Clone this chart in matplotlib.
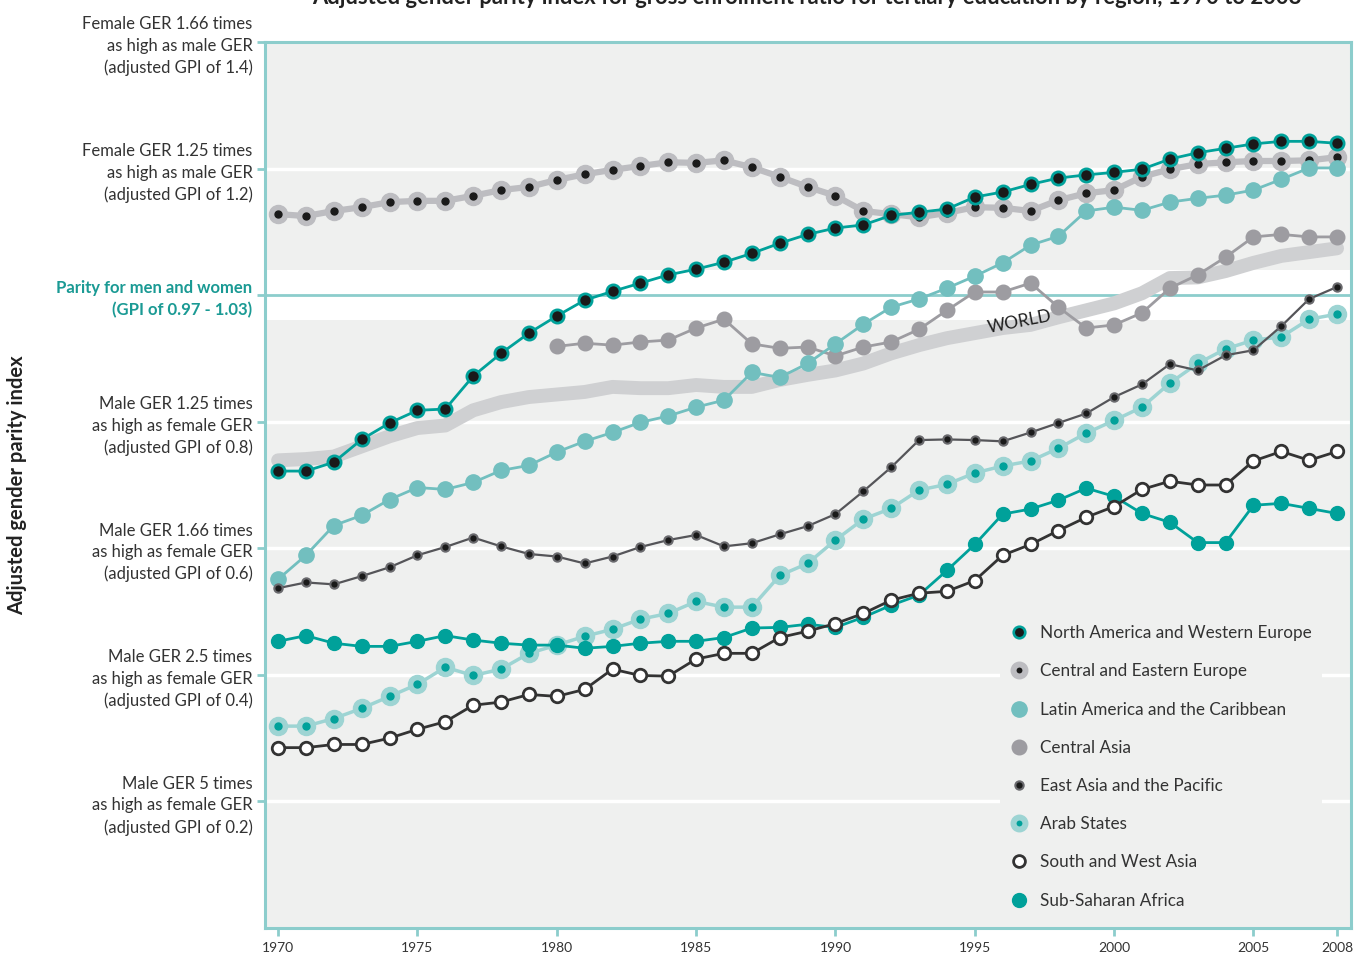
import matplotlib
matplotlib.use("Agg")
import matplotlib.pyplot as plt
from matplotlib.lines import Line2D

plt.rcParams['font.family'] = ['Lato', 'DejaVu Sans']

years = list(range(1970, 2009))
years_ca = list(range(1980, 2009))

north_america_w_europe = [0.722, 0.722, 0.736, 0.772, 0.798, 0.818, 0.820, 0.872, 0.908, 0.940,
                          0.967, 0.992, 1.006, 1.019, 1.032, 1.041, 1.052, 1.066, 1.082, 1.096,
                          1.106, 1.111, 1.126, 1.131, 1.136, 1.155, 1.163, 1.175, 1.185, 1.190,
                          1.194, 1.199, 1.215, 1.225, 1.232, 1.239, 1.243, 1.243, 1.240]
central_eastern_europe = [1.128, 1.125, 1.133, 1.139, 1.147, 1.149, 1.149, 1.157, 1.166, 1.171,
                          1.182, 1.191, 1.198, 1.204, 1.210, 1.209, 1.213, 1.202, 1.187, 1.171,
                          1.157, 1.133, 1.128, 1.123, 1.130, 1.139, 1.138, 1.133, 1.150, 1.161,
                          1.166, 1.187, 1.199, 1.207, 1.210, 1.212, 1.212, 1.213, 1.218]
latin_america_caribbean = [0.551, 0.589, 0.636, 0.652, 0.677, 0.696, 0.693, 0.704, 0.723, 0.731,
                           0.752, 0.769, 0.783, 0.799, 0.809, 0.823, 0.834, 0.878, 0.870, 0.892,
                           0.923, 0.954, 0.981, 0.994, 1.011, 1.030, 1.051, 1.079, 1.093, 1.133,
                           1.139, 1.134, 1.147, 1.153, 1.158, 1.166, 1.183, 1.201, 1.201]
central_asia = [0.919, 0.924, 0.921, 0.926, 0.929, 0.948, 0.962, 0.923, 0.916, 0.918,
                0.904, 0.918, 0.926, 0.946, 0.976, 1.005, 1.005, 1.019, 0.981, 0.948,
                0.953, 0.972, 1.011, 1.032, 1.060, 1.092, 1.096, 1.092, 1.092]
east_asia_pacific = [0.537, 0.546, 0.543, 0.556, 0.570, 0.589, 0.602, 0.617, 0.603, 0.591,
                     0.587, 0.576, 0.587, 0.602, 0.613, 0.621, 0.603, 0.608, 0.622, 0.635,
                     0.654, 0.690, 0.728, 0.771, 0.772, 0.771, 0.769, 0.783, 0.798, 0.813,
                     0.839, 0.859, 0.891, 0.881, 0.905, 0.913, 0.951, 0.994, 1.013]
arab_states = [0.319, 0.319, 0.331, 0.347, 0.366, 0.385, 0.412, 0.399, 0.409, 0.434,
               0.447, 0.461, 0.472, 0.488, 0.497, 0.516, 0.507, 0.507, 0.557, 0.576,
               0.613, 0.646, 0.663, 0.692, 0.701, 0.719, 0.730, 0.738, 0.758, 0.782,
               0.802, 0.823, 0.861, 0.892, 0.915, 0.929, 0.934, 0.962, 0.970]
south_west_asia = [0.285, 0.285, 0.290, 0.290, 0.300, 0.314, 0.326, 0.352, 0.357, 0.369,
                   0.366, 0.377, 0.409, 0.399, 0.398, 0.425, 0.434, 0.434, 0.459, 0.469,
                   0.481, 0.497, 0.518, 0.529, 0.532, 0.549, 0.589, 0.606, 0.628, 0.649,
                   0.666, 0.693, 0.706, 0.700, 0.700, 0.738, 0.753, 0.739, 0.753]
sub_saharan_africa = [0.453, 0.462, 0.450, 0.445, 0.445, 0.453, 0.462, 0.455, 0.450, 0.447,
                      0.447, 0.442, 0.445, 0.450, 0.453, 0.453, 0.459, 0.474, 0.475, 0.480,
                      0.475, 0.491, 0.510, 0.526, 0.565, 0.606, 0.654, 0.662, 0.676, 0.695,
                      0.682, 0.655, 0.641, 0.609, 0.609, 0.668, 0.671, 0.663, 0.655]
world = [0.739, 0.741, 0.745, 0.761, 0.777, 0.790, 0.794, 0.818, 0.831, 0.839,
         0.843, 0.847, 0.855, 0.853, 0.853, 0.858, 0.855, 0.855, 0.866, 0.874,
         0.881, 0.892, 0.908, 0.921, 0.932, 0.940, 0.948, 0.953, 0.965, 0.976,
         0.987, 1.003, 1.027, 1.028, 1.038, 1.051, 1.062, 1.068, 1.074]

ytick_vals = [0.2, 0.4, 0.6, 0.8, 1.0, 1.2, 1.4]
ytick_labels = [
    "Male GER 5 times\nas high as female GER\n(adjusted GPI of 0.2)",
    "Male GER 2.5 times\nas high as female GER\n(adjusted GPI of 0.4)",
    "Male GER 1.66 times\nas high as female GER\n(adjusted GPI of 0.6)",
    "Male GER 1.25 times\nas high as female GER\n(adjusted GPI of 0.8)",
    "Parity for men and women\n(GPI of 0.97 - 1.03)",
    "Female GER 1.25 times\nas high as male GER\n(adjusted GPI of 1.2)",
    "Female GER 1.66 times\nas high as male GER\n(adjusted GPI of 1.4)",
]
xtick_vals = [1970, 1975, 1980, 1985, 1990, 1995, 2000, 2005, 2008]

TEAL = '#00a19a'
FRAME = '#8ccdcc'
BG = '#eff0ef'

fig = plt.figure(figsize=(13.54, 9.56), dpi=100)
ax = fig.add_axes([265/1354, 1-928/956, (1351-265)/1354, (928-42)/956])
ax.set_facecolor(BG)
ax.set_xlim(1969.53, 2008.5)
ax.set_ylim(0, 1.4)

# background guides
for v in [0.2, 0.4, 0.6, 0.8, 1.2]:
    ax.axhline(v, color='white', lw=2.5, zorder=0.5)
ax.axhspan(0.96, 1.04, color='white', zorder=0.4, lw=0)
ax.axhline(1.0, color=FRAME, lw=2.0, zorder=0.6)

# world band
ax.plot(years, world, color='#cfd0d2', lw=10, solid_capstyle='round',
        solid_joinstyle='round', zorder=1)
ax.text(1996.6, 0.958, 'WORLD', rotation=11, fontsize=12.5, color='#1e1e1e',
        ha='center', va='center', zorder=1.5)

# Central and Eastern Europe
ax.plot(years, central_eastern_europe, color='#bdbdc1', lw=4.5, marker='o', ms=13,
        mfc='#bdbdc1', mec='#bdbdc1', zorder=2)
ax.plot(years, central_eastern_europe, ls='none', marker='o', ms=5, mfc='#1a1a1a',
        mec='#1a1a1a', zorder=2.1)
# Central Asia
ax.plot(years_ca, central_asia, color='#9d9ca1', lw=2, marker='o', ms=10.5,
        mfc='#9d9ca1', mec='#9d9ca1', zorder=2.2)
# Latin America
ax.plot(years, latin_america_caribbean, color='#72bfbf', lw=2, marker='o', ms=11,
        mfc='#72bfbf', mec='#72bfbf', zorder=2.3)
# North America and Western Europe
ax.plot(years, north_america_w_europe, color=TEAL, lw=2, marker='o', ms=9.5,
        mfc='#1a1a1a', mec=TEAL, mew=2, zorder=3)
# East Asia and the Pacific
ax.plot(years, east_asia_pacific, color='#555559', lw=1.6, marker='o', ms=6,
        mfc='#1a1a1a', mec='#6a6a6e', mew=1.5, zorder=2.6)
# Arab States
ax.plot(years, arab_states, color='#9dd4d3', lw=2.5, marker='o', ms=13,
        mfc='#9dd4d3', mec='#9dd4d3', zorder=2.4)
ax.plot(years, arab_states, ls='none', marker='o', ms=5, mfc=TEAL, mec=TEAL, zorder=2.45)
# South and West Asia
ax.plot(years, south_west_asia, color='#333333', lw=2, marker='o', ms=9,
        mfc='white', mec='#333333', mew=2, zorder=2.7)
# Sub-Saharan Africa
ax.plot(years, sub_saharan_africa, color=TEAL, lw=2, marker='o', ms=10,
        mfc=TEAL, mec=TEAL, zorder=2.5)

# legend
handles = [
    Line2D([], [], ls='none', marker='o', ms=8.3, mfc='#1a1a1a', mec=TEAL, mew=1.9),
    Line2D([], [], ls='none', marker='o', ms=8.6, mfc='#1a1a1a', mec='#bdbdc1', mew=4.3),
    Line2D([], [], ls='none', marker='o', ms=11, mfc='#72bfbf', mec='#72bfbf'),
    Line2D([], [], ls='none', marker='o', ms=10.5, mfc='#9d9ca1', mec='#9d9ca1'),
    Line2D([], [], ls='none', marker='o', ms=6, mfc='#1a1a1a', mec='#6a6a6e', mew=1.5),
    Line2D([], [], ls='none', marker='o', ms=8.6, mfc=TEAL, mec='#9dd4d3', mew=4.3),
    Line2D([], [], ls='none', marker='o', ms=8.5, mfc='white', mec='#333333', mew=2),
    Line2D([], [], ls='none', marker='o', ms=10, mfc=TEAL, mec=TEAL),
]
labels = ["North America and Western Europe", "Central and Eastern Europe",
          "Latin America and the Caribbean", "Central Asia", "East Asia and the Pacific",
          "Arab States", "South and West Asia", "Sub-Saharan Africa"]
leg = ax.legend(handles, labels, loc='upper left', bbox_to_anchor=(0.669, 0.363),
                frameon=True, facecolor=BG, edgecolor='none', framealpha=1,
                fontsize=12.3, labelspacing=1.3, handlelength=1.0, handletextpad=0.75,
                borderpad=0.6, labelcolor='#333333')
leg.set_zorder(5)

# axes styling
for s in ax.spines.values():
    s.set_color(FRAME)
    s.set_linewidth(2.2)
ax.set_yticks(ytick_vals)
ax.set_yticklabels(ytick_labels, fontsize=12, color='#333333', linespacing=1.42)
ax.tick_params(axis='y', color=FRAME, width=2, length=6, pad=3)
for lab in ax.get_yticklabels():
    if lab.get_text().startswith('Parity'):
        lab.set_color('#1a9a94')
        lab.set_fontweight('bold')
ax.set_xticks(xtick_vals)
ax.set_xticklabels([str(x) for x in xtick_vals], fontsize=10, color='#333333')
ax.tick_params(axis='x', color=FRAME, width=2, length=6, pad=4)

fig.text(0.013, 0.493, 'Adjusted gender parity index', rotation=90, fontsize=14.5,
         fontweight='bold', color='#222222', ha='center', va='center')
fig.text(0.596, 0.996,
         'Adjusted gender parity index for gross enrolment ratio for tertiary education by region, 1970 to 2008',
         fontsize=15.8, fontweight='bold', color='#222222', ha='center', va='baseline')

fig.savefig('out.png', dpi=100)
